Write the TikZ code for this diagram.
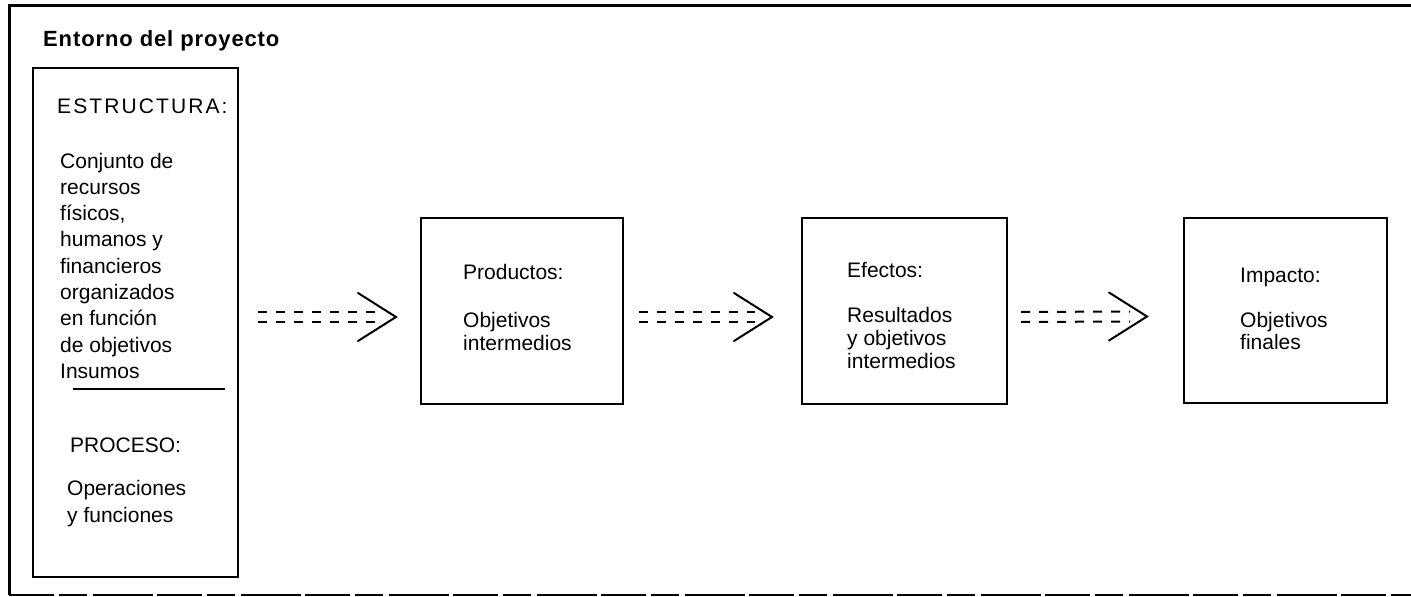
\documentclass[tikz,border=0pt]{standalone}
\usepackage{fontspec}
\setmainfont{Liberation Sans}
\usetikzlibrary{calc}
\newcommand\dblarrowdraw[2]{%
  \draw[dashln] ($(#1)+(0,-5)$) -- ($(#2)+(-17,-5)$);
  \draw[dashln] ($(#1)+(0,5)$) -- ($(#2)+(-17,5)$);
  \draw[chev] ($(#2)+(-38,-24)$) -- (#2) -- ($(#2)+(-38,24)$);}
\begin{document}
\begin{tikzpicture}[x=1pt,y=-1pt,
  box/.style={draw,line width=2pt,inner sep=0pt},
  txt/.style={anchor=base west,inner sep=0pt,font=\fontsize{21}{23}\selectfont},
  dashln/.style={line width=2pt,dash pattern=on 9pt off 9pt},
  chev/.style={line width=2pt,line cap=round,line join=miter},
  frame/.style={line width=3pt}]
\useasboundingbox (0,0) rectangle (1411,597);
% outer frame
\coordinate (ftr) at (1411,5);
\coordinate (ftl) at (9,5);
\coordinate (fbl) at (9,595);
\coordinate (fbr) at (1411,595);
\draw[frame] (ftr) -- (ftl) -- (fbl);
\draw[line width=2.5pt,dash pattern=on 45pt off 5pt on 28pt off 6pt on 60pt off 4pt] (fbl) -- (fbr);
\node[anchor=base west,inner sep=0pt,font=\bfseries\fontsize{22}{26}\selectfont\addfontfeatures{LetterSpace=4}] (title) at (43,46) {Entorno del proyecto};
% boxes
\node[box,minimum width=205pt,minimum height=509pt] (L) at (135.5,322.5) {};
\node[box,minimum width=202pt,minimum height=186pt] (P) at (522,311) {};
\node[box,minimum width=205pt,minimum height=186pt] (E) at (904.5,311) {};
\node[box,minimum width=203pt,minimum height=185pt] (I) at (1285.5,310.5) {};
% left box text
\node[txt,font=\fontsize{21}{23}\selectfont\addfontfeatures{LetterSpace=10}] (est) at (57,113) {ESTRUCTURA:};
\foreach \t [count=\i] in {Conjunto de,recursos,{físicos,},humanos y,financieros,organizados,en función,de objetivos,Insumos}
  \node[txt] (c\i) at (60,{168+(\i-1)*26.3}) {\t};
\coordinate (dvl) at (73,389);
\coordinate (dvr) at (225,389);
\draw[line width=1.8pt] (dvl) -- (dvr);
\node[txt] (proc) at (70,452) {PROCESO:};
\node[txt] (op1) at (67,495) {Operaciones};
\node[txt] (op2) at (67,522) {y funciones};
% productos
\node[txt] (pt) at (463,279) {Productos:};
\node[txt] (p1) at (463,327) {Objetivos};
\node[txt] (p2) at (463,350) {intermedios};
% efectos
\node[txt] (et) at (847,277) {Efectos:};
\node[txt] (e1) at (847,322) {Resultados};
\node[txt] (e2) at (847,345) {y objetivos};
\node[txt] (e3) at (847,368) {intermedios};
% impacto
\node[txt] (it) at (1240,282) {Impacto:};
\node[txt] (i1) at (1240,327) {Objetivos};
\node[txt] (i2) at (1240,349) {finales};
% arrows
\coordinate (a1s) at ($(L.east |- P.west)+(19,6)$);
\coordinate (a1t) at ($(P.west)+(-24,6)$);
\coordinate (a2s) at ($(P.east)+(15,6)$);
\coordinate (a2t) at ($(E.west)+(-29,6)$);
\coordinate (a3s) at ($(E.east)+(13,6)$);
\coordinate (a3t) at ($(I.west)+(-36,6)$);
\dblarrowdraw{a1s}{a1t}
\dblarrowdraw{a2s}{a2t}
\dblarrowdraw{a3s}{a3t}
\end{tikzpicture}
\end{document}
